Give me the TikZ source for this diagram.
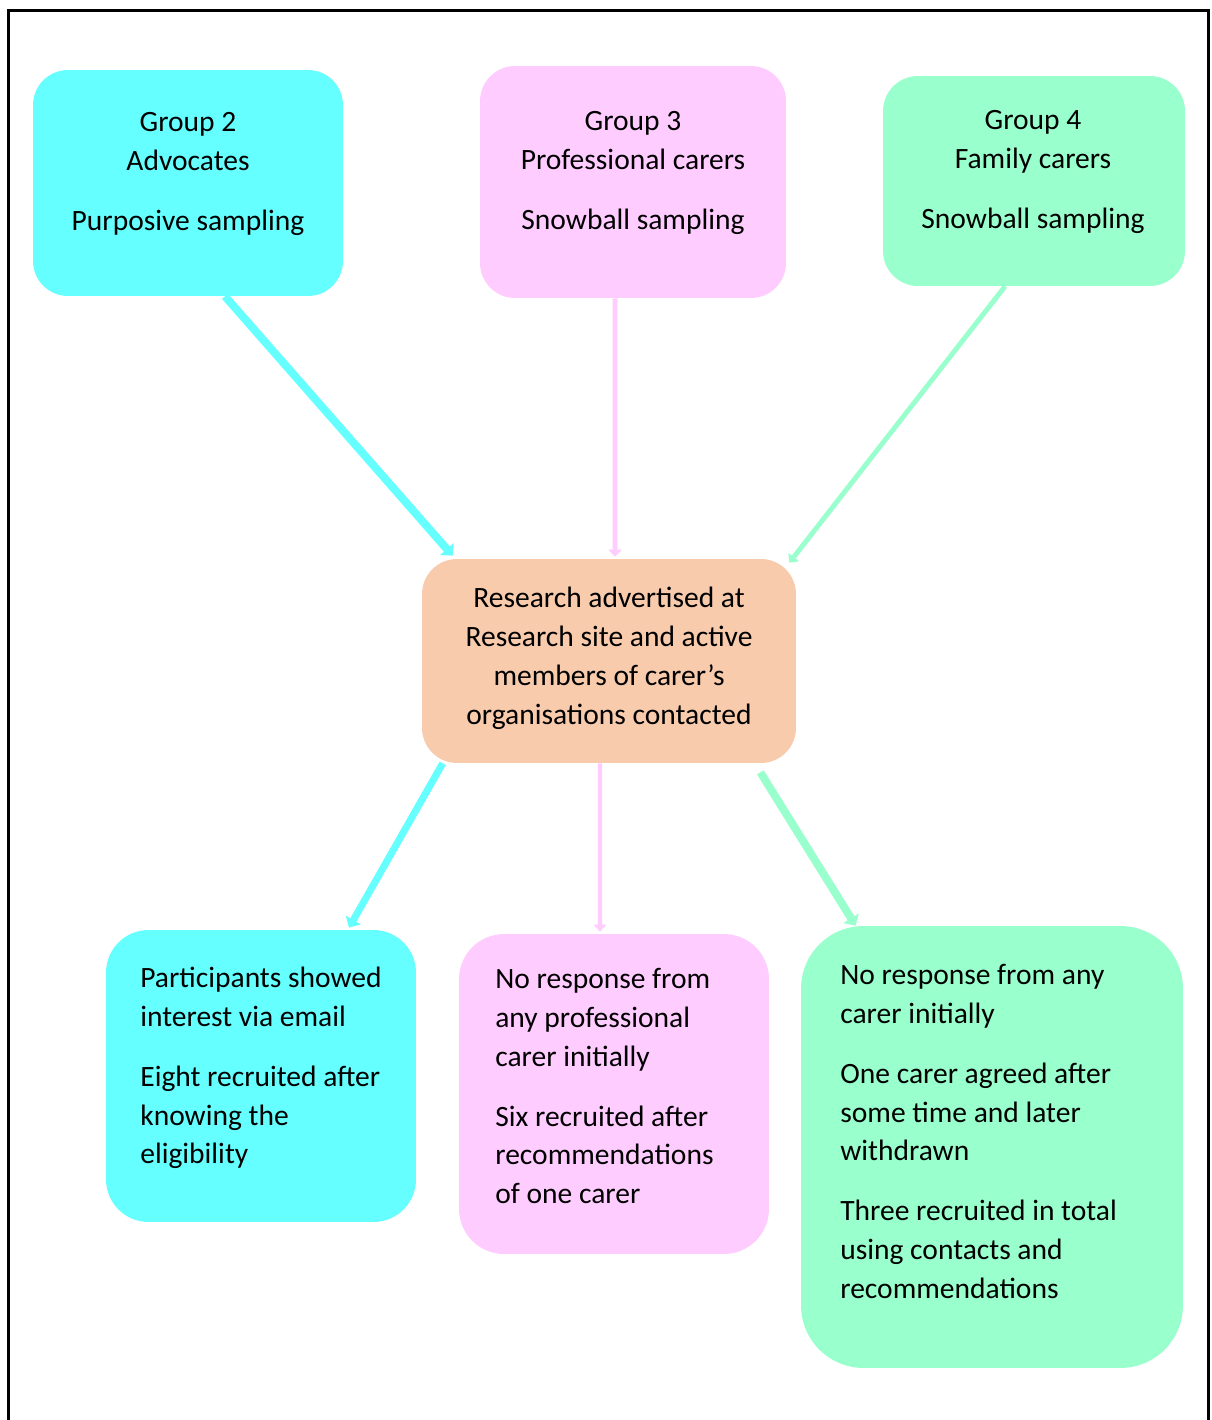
\documentclass[tikz,border=0pt]{standalone}
\usepackage{fontspec}
\setmainfont{Carlito}
\usetikzlibrary{arrows.meta}
\definecolor{boxcyan}{HTML}{66FFFF}
\definecolor{boxpink}{HTML}{FFCCFF}
\definecolor{boxgreen}{HTML}{99FFCC}
\definecolor{boxpeach}{HTML}{F8CBAD}
\tikzset{
  box/.style={draw=none, rounded corners=0.7cm, inner sep=0pt},
  txt/.style={inner sep=0pt, font=\fontsize{16.8}{22.1}\selectfont},
  link/.style={line cap=butt},
}
\newcommand{\gap}{\\[12pt]}
\begin{document}
\begin{tikzpicture}[x=0.02cm,y=-0.02cm]
\useasboundingbox (0,0) rectangle (1211,1420);
% outer frame (open at the bottom)
\draw[line width=1.7pt, line join=miter] (8.5,1420) -- (8.5,10.5) -- (1208.5,10.5) -- (1208.5,1420);

% boxes
\node[box, fill=boxcyan,  minimum width=6.2cm,  minimum height=4.52cm] (g2) at (188,183) {};
\node[box, fill=boxpink,  minimum width=6.12cm, minimum height=4.64cm] (g3) at (633,182) {};
\node[box, fill=boxgreen, minimum width=6.04cm, minimum height=4.2cm]  (g4) at (1034,181) {};
\node[box, fill=boxpeach, minimum width=7.48cm, minimum height=4.08cm] (c)  at (609,661) {};
\node[box, fill=boxcyan,  rounded corners=0.85cm, minimum width=6.2cm,  minimum height=5.84cm] (bl) at (261,1076) {};
\node[box, fill=boxpink,  rounded corners=0.9cm,  minimum width=6.2cm,  minimum height=6.4cm]  (bm) at (614,1094) {};
\node[box, fill=boxgreen, rounded corners=1.25cm, minimum width=7.64cm, minimum height=8.84cm] (br) at (992,1147) {};

% texts
\node[txt, anchor=north, align=center] (t2) at (188,104) {\strut Group 2\\Advocates\gap Purposive sampling};
\node[txt, anchor=north, align=center] (t3) at (633,103) {\strut Group 3\\Professional carers\gap Snowball sampling};
\node[txt, anchor=north, align=center] (t4) at (1033,102) {\strut Group 4\\Family carers\gap Snowball sampling};
\node[txt, anchor=north, align=center] (tc) at (609,580) {\strut Research advertised at\\Research site and active\\members of carer’s\\organisations contacted};
\node[txt, anchor=north west, align=left] (tbl) at (140,960) {\strut Participants showed\\interest via email\gap Eight recruited after\\knowing the\\eligibility};
\node[txt, anchor=north west, align=left] (tbm) at (495,961) {\strut No response from\\any professional\\carer initially\gap Six recruited after\\recommendations\\of one carer};
\node[txt, anchor=north west, align=left] (tbr) at (840,957) {\strut No response from any\\carer initially\gap One carer agreed after\\some time and later\\withdrawn\gap Three recruited in total\\using contacts and\\recommendations};

% connectors
\draw[link, boxcyan, line width=4.5pt, -{Triangle[length=5pt,width=10pt]}]
  ([xshift=0.74cm]g2.south) -- ([xshift=0.62cm,yshift=0.06cm]c.north west);
\draw[link, boxpink, line width=2.8pt, -{Triangle[length=4pt,width=7.5pt]}]
  ([xshift=-0.36cm]g3.south) -- ([xshift=0.12cm,yshift=0.04cm]c.north);
\draw[link, boxgreen, line width=2.8pt, -{Triangle[length=4pt,width=7.5pt]}]
  ([xshift=-0.58cm]g4.south) -- ([xshift=-0.14cm,yshift=-0.08cm]c.north east);
\draw[link, boxcyan, line width=4pt, -{Triangle[length=5pt,width=9.5pt]}]
  ([xshift=0.42cm]c.south west) -- ([xshift=1.76cm,yshift=0.04cm]bl.north);
\draw[link, boxpink, line width=2.3pt, -{Triangle[length=4pt,width=7pt]}]
  ([xshift=-0.18cm]c.south) -- ([xshift=-0.28cm,yshift=0.04cm]bm.north);
\draw[link, boxgreen, line width=4.5pt, -{Triangle[length=5pt,width=10pt]}]
  ([xshift=-0.72cm,yshift=-0.18cm]c.south east) -- ([xshift=1.1cm]br.north west);
\end{tikzpicture}
\end{document}
